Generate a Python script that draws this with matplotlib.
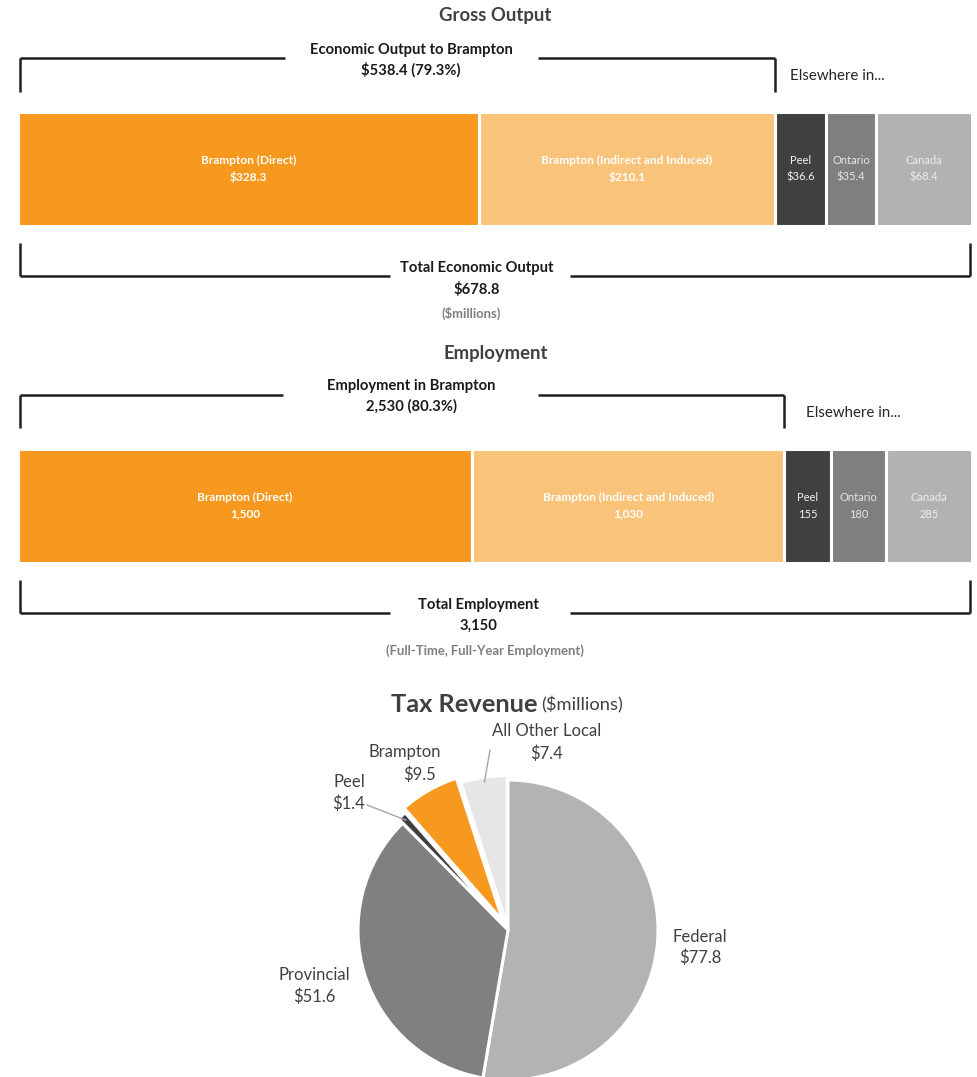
import matplotlib
matplotlib.use("Agg")
import matplotlib.pyplot as plt
import numpy as np

plt.rcParams['font.family'] = ['Lato', 'DejaVu Sans']

# ---------------- data ----------------
seg_names = ['Brampton (Direct)', 'Brampton (Indirect and Induced)', 'Peel', 'Ontario', 'Canada']
gross_values = [328.3, 210.1, 36.6, 35.4, 68.4]
gross_value_labels = ['$328.3', '$210.1', '$36.6', '$35.4', '$68.4']
gross_brampton_label = '$538.4 (79.3%)'
gross_total_label = '$678.8'

emp_values = [1500, 1030, 155, 180, 285]
emp_value_labels = ['1,500', '1,030', '155', '180', '285']
emp_brampton_label = '2,530 (80.3%)'
emp_total_label = '3,150'

tax_labels = ['Federal', 'Provincial', 'Peel', 'Brampton', 'All Other Local']
tax_values = [77.8, 51.6, 1.4, 9.5, 7.4]
tax_value_labels = ['$77.8', '$51.6', '$1.4', '$9.5', '$7.4']

# ---------------- style ----------------
seg_colors = ['#F7991F', '#F9C37A', '#404040', '#7F7F7F', '#B2B2B2']
seg_text_colors = ['white', 'white', '#F2F2F2', '#E6E6E6', '#EDEDED']
seg_bold = [True, True, False, False, False]
tax_colors = ['#B3B3B3', '#808080', '#404040', '#F7991F', '#E6E6E6']
tax_explode = [0.0, 0.0, 0.04, 0.07, 0.03]

W, H = 977, 1077
fig = plt.figure(figsize=(W / 100, H / 100), dpi=100)


def T(x, y, s, **kw):
    kw.setdefault('ha', 'center')
    kw.setdefault('va', 'center')
    fig.text(x / W, 1 - y / H, s, **kw)


def bar_block(values, vlabels, brampton_n, ytop, ybot, top_line_y, top_tick_y,
              top_gap, bot_tick_y, bot_line_y, bot_gap):
    ax = fig.add_axes([18 / W, 1 - ybot / H, 954 / W, (ybot - ytop) / H])
    total = sum(values)
    lefts = np.concatenate([[0], np.cumsum(values)[:-1]])
    ax.barh(0, values, left=lefts, height=1.0, color=seg_colors,
            edgecolor='white', linewidth=2.2)
    ax.set_xlim(0, total)
    ax.set_ylim(-0.5, 0.5)
    ax.axis('off')
    for l, v, name, vl, tc, b in zip(lefts, values, seg_names, vlabels,
                                     seg_text_colors, seg_bold):
        fs = 8.6 if b else 8.0
        ax.text(l + v / 2, 0.072, name, ha='center', va='center', color=tc,
                fontsize=fs, fontweight='bold' if b else 'normal')
        ax.text(l + v / 2, -0.072, vl, ha='center', va='center', color=tc,
                fontsize=fs, fontweight='bold' if b else 'normal')
    h = ybot - ytop

    def ay(ypx):
        return (ybot - ypx) / h

    def ax_(xpx):
        return (xpx - 18) / 954

    kw = dict(color='#1E1E1E', lw=1.8, transform=ax.transAxes, clip_on=False,
              solid_capstyle='butt')
    # top bracket
    xe = sum(values[:brampton_n]) / total
    ax.plot([0.002, 0.002], [ay(top_tick_y), ay(top_line_y)], **kw)
    ax.plot([0.002, ax_(top_gap[0])], [ay(top_line_y)] * 2, **kw)
    ax.plot([ax_(top_gap[1]), xe], [ay(top_line_y)] * 2, **kw)
    ax.plot([xe, xe], [ay(top_line_y), ay(top_tick_y)], **kw)
    # bottom bracket
    ax.plot([0.002, 0.002], [ay(bot_tick_y), ay(bot_line_y)], **kw)
    ax.plot([0.002, ax_(bot_gap[0])], [ay(bot_line_y)] * 2, **kw)
    ax.plot([ax_(bot_gap[1]), 0.998], [ay(bot_line_y)] * 2, **kw)
    ax.plot([0.998, 0.998], [ay(bot_line_y), ay(bot_tick_y)], **kw)
    return ax


BF = 10.6  # bracket text size
# ---------------- Gross Output ----------------
T(495, 16, 'Gross Output', fontsize=13.3, fontweight='bold', color='#404040')
bar_block(gross_values, gross_value_labels, 2, 112, 226, 58, 92, (285, 538),
          243, 276, (390, 570))
T(411, 50, 'Economic Output to Brampton', fontsize=BF, fontweight='bold', color='#1A1A1A')
T(411, 70, gross_brampton_label, fontsize=BF, fontweight='bold', color='#1A1A1A')
T(790, 76, 'Elsewhere in...', fontsize=10.8, color='#262626', ha='left')
T(477, 268, 'Total Economic Output', fontsize=BF, fontweight='bold', color='#1A1A1A')
T(477, 289, gross_total_label, fontsize=BF, fontweight='bold', color='#1A1A1A')
T(471, 313, '($millions)', fontsize=9.4, fontweight='bold', color='#7F7F7F')

# ---------------- Employment ----------------
T(496, 353, 'Employment', fontsize=13.3, fontweight='bold', color='#404040')
bar_block(emp_values, emp_value_labels, 2, 449, 563, 395, 428, (283, 538),
          580, 613, (390, 570))
T(411, 386, 'Employment in Brampton', fontsize=BF, fontweight='bold', color='#1A1A1A')
T(411, 406, emp_brampton_label, fontsize=BF, fontweight='bold', color='#1A1A1A')
T(806, 413, 'Elsewhere in...', fontsize=10.8, color='#262626', ha='left')
T(478, 605, 'Total Employment', fontsize=BF, fontweight='bold', color='#1A1A1A')
T(478, 626, emp_total_label, fontsize=BF, fontweight='bold', color='#1A1A1A')
T(485, 651, '(Full-Time, Full-Year Employment)', fontsize=9.4, fontweight='bold', color='#7F7F7F')

# ---------------- Tax Revenue pie ----------------
cx, cy, R = 508, 930, 150
pax = fig.add_axes([(cx - 250) / W, 0, 500 / W, 400 / H])
wedges, _ = pax.pie(tax_values, colors=tax_colors, startangle=90, counterclock=False,
                    explode=tax_explode, radius=1.0,
                    wedgeprops=dict(edgecolor='white', linewidth=2.2))
pax.set_aspect('auto')
pax.set_xlim(-250 / R, 250 / R)
pax.set_ylim(-(H - cy) / R, (400 - (H - cy)) / R)
pax.axis('off')

fig.text(391 / W, 1 - 704 / H, 'Tax Revenue', fontsize=18.3, fontweight='bold',
         color='#404040', ha='left', va='center')
fig.text(541 / W, 1 - 705 / H, '($millions)', fontsize=13.2, color='#404040',
         ha='left', va='center')

label_pos = [(700, 937), (314, 975), (349, 782), (405, 752), (547, 731)]
lab_color = '#404040'
LF = 12
for (x, y), name in zip(label_pos, tax_labels):
    T(x, y, name, fontsize=LF, color=lab_color)
T(700, 958, tax_value_labels[0], fontsize=LF, color=lab_color)
T(314, 997, tax_value_labels[1], fontsize=LF, color=lab_color)
T(349, 804, tax_value_labels[2], fontsize=LF, color=lab_color)
T(420, 775, tax_value_labels[3], fontsize=LF, color=lab_color)
T(547, 754, tax_value_labels[4], fontsize=LF, color=lab_color)

# leader lines (Peel, All Other Local) to wedge mid-angles
for i, start in [(2, (367, 805)), (4, (490, 750))]:
    w = wedges[i]
    mid = np.deg2rad((w.theta1 + w.theta2) / 2)
    ex, ey = np.cos(mid) * 1.0, np.sin(mid) * 1.0
    sx, sy = (start[0] - cx) / R, (cy - start[1]) / R
    pax.plot([sx, ex], [sy, ey], color='#A6A6A6', lw=1.0, clip_on=False)

fig.savefig('out.png', dpi=100)
